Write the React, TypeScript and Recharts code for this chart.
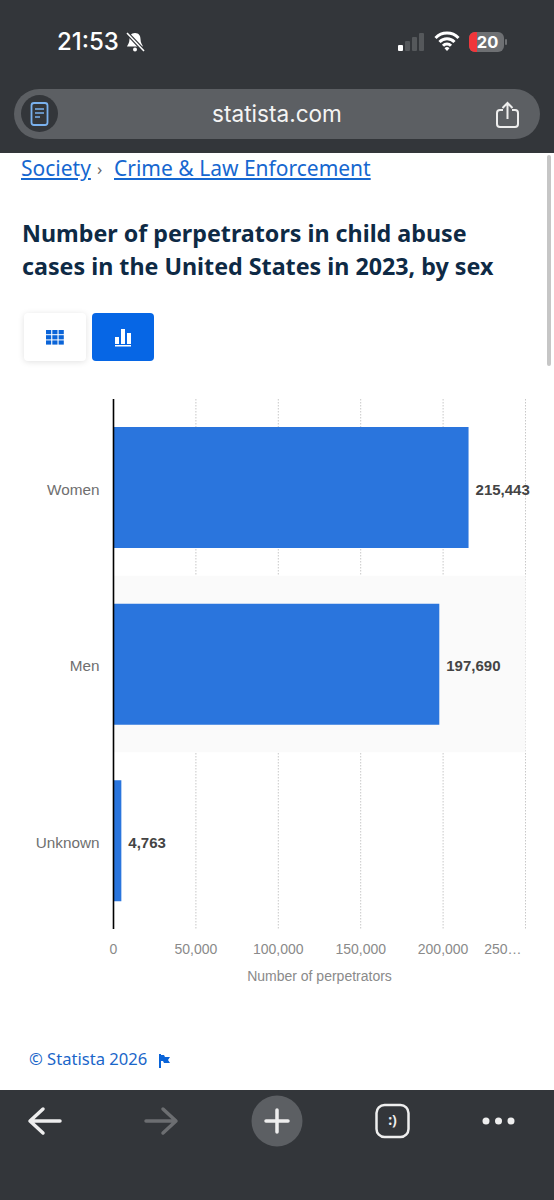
import React from "react";
import { BarChart, Bar, XAxis, YAxis, CartesianGrid, LabelList, ReferenceArea } from "recharts";

const categories = ["Women", "Men", "Unknown"];
const perpetrators = [215443, 197690, 4763];
const xTicks = [0, 50000, 100000, 150000, 200000, 250000];
const titleLines = ["Number of perpetrators in child abuse", "cases in the United States in 2023, by sex"];
const chartRows = categories.map((name, i) => ({ name, value: perpetrators[i] }));

const ARIAL = "'Liberation Sans', Arial, sans-serif";
const NOTO = "'Noto Sans', 'Open Sans', sans-serif";
const DARK = "#33363a";

function T({ x, y, size, color, children, weight, family, underline, center, w }: any) {
  return (
    <div
      style={{
        position: "absolute", left: x, top: y, width: w, fontSize: size, lineHeight: "1", color,
        fontWeight: weight || 400, fontFamily: family || NOTO, whiteSpace: "nowrap",
        textDecoration: underline ? "underline" : "none", textAlign: center ? "center" : "left",
      }}
    >
      {children}
    </div>
  );
}

function Box({ x, y, w, h, bg, r, shadow }: any) {
  return <div style={{ position: "absolute", left: x, top: y, width: w, height: h, background: bg, borderRadius: r || 0, boxShadow: shadow }} />;
}

function XTick({ x, y, payload }: any) {
  const last = payload.value === xTicks[xTicks.length - 1];
  return (
    <text x={last ? x - 4 : x} y={y} dy={5} textAnchor={last ? "end" : "middle"} fontSize={14} fontFamily={ARIAL} fill="#8a8a8a">
      {last ? "250…" : payload.value.toLocaleString("en-US")}
    </text>
  );
}

function YTick({ x, y, payload }: any) {
  return (
    <text x={x} y={y} dy={7.3} textAnchor="end" fontSize={15.3} fontFamily={ARIAL} fill="#6f6f6f">
      {payload.value}
    </text>
  );
}

function ValueLabel({ x, y, width, height, value }: any) {
  return (
    <text x={x + width + 7} y={y + height / 2} dy={7} fontSize={15} fontWeight={700} fontFamily={ARIAL} fill="#444">
      {Number(value).toLocaleString("en-US")}
    </text>
  );
}

function Chart() {
  return (
    <div style={{ position: "absolute", left: 0, top: 390 }}>
      <BarChart
        width={554}
        height={599}
        layout="vertical"
        data={chartRows}
        margin={{ top: 9, right: 28.5, bottom: 0, left: 0 }}
        barSize={121}
      >
        <ReferenceArea y1="Men" y2="Men" fill="#fafafa" fillOpacity={1} stroke="none" />
        <CartesianGrid horizontal={false} vertical stroke="#c8c8c8" strokeDasharray="1.5 1.5" />
        <XAxis
          type="number"
          domain={[0, 250000]}
          ticks={xTicks}
          height={60}
          axisLine={false}
          tickLine={false}
          tickMargin={14}
          interval={0}
          tick={<XTick />}
          label={{ value: "Number of perpetrators", position: "insideBottom", offset: 8, fontSize: 14, fontFamily: ARIAL, fill: "#8a8a8a" }}
        />
        <YAxis
          type="category"
          dataKey="name"
          width={113.5}
          axisLine={{ stroke: "#000", strokeWidth: 1.6 }}
          tickLine={false}
          tickMargin={8}
          tick={<YTick />}
        />
        <Bar dataKey="value" fill="#2a75dd" isAnimationActive={false}>
          <LabelList dataKey="value" content={<ValueLabel />} />
        </Bar>
      </BarChart>
    </div>
  );
}

function TopChrome() {
  return (
    <>
      <Box x={0} y={0} w={554} h={153} bg={DARK} />
      <T x={57} y={30} size={24} color="#fff" family="Inter, Roboto, sans-serif" weight={500}>21:53</T>
      <svg style={{ position: "absolute", left: 124, top: 31 }} width={22} height={22} viewBox="0 0 22 22">
        <path d="M11 2c-4 0-5.500 3-5.500 6 0 4-2 6-2.500 7.500h16c-.5-1.500-2.500-3.500-2.500-7.500 0-3-1.500-6-5.500-6z" fill="#fff" />
        <circle cx={11} cy={18.500} r={2} fill="#fff" />
        <line x1={3} y1={2} x2={20} y2={20} stroke={DARK} strokeWidth={4} />
        <line x1={3} y1={2} x2={20} y2={20} stroke="#fff" strokeWidth={1.6} />
      </svg>
      <svg style={{ position: "absolute", left: 396, top: 32 }} width={30} height={20}>
        <rect x={2} y={13} width={5} height={6} rx={1} fill="#fff" />
        <rect x={9} y={9} width={5} height={10} rx={1} fill="#55585b" />
        <rect x={16} y={5} width={5} height={14} rx={1} fill="#55585b" />
        <rect x={23} y={1} width={5} height={18} rx={1} fill="#55585b" />
      </svg>
      <svg style={{ position: "absolute", left: 434, top: 31 }} width={26} height={21} viewBox="0 0 26 21">
        <path d="M1.500 7a16 16 0 0 1 23 0M5.500 11a10.500 10.500 0 0 1 15 0M9 14.800a5.500 5.500 0 0 1 8 0" stroke="#fff" strokeWidth={3} fill="none" />
        <path d="M10.500 17.200 13 20l2.500-2.800a3.500 3.500 0 0 0-5 0z" fill="#fff" />
      </svg>
      <div style={{ position: "absolute", left: 469, top: 32, width: 35, height: 20, borderRadius: 6, overflow: "hidden", background: "#6e7073" }}>
        <div style={{ width: 8, height: 20, background: "#f0363b" }} />
      </div>
      <Box x={505} y={39} w={2} h={6} bg="#6e7073" r={1} />
      <T x={470} y={34} w={35} size={16.500} color="#fff" weight={700} family="Inter, Roboto, sans-serif" center>20</T>
      <Box x={14} y={89} w={526} h={50} bg="#5c5f63" r={25} />
      <svg style={{ position: "absolute", left: 21, top: 95 }} width={37} height={37}>
        <circle cx={18.500} cy={18.500} r={18.500} fill={DARK} />
        <rect x={10.500} y={8} width={16} height={22} rx={2.500} fill="none" stroke="#7ab1ee" strokeWidth={1.8} />
        <path d="M14 14h9M14 18h9M14 22h5" stroke="#7ab1ee" strokeWidth={1.6} />
      </svg>
      <T x={0} y={103} w={554} size={22.600} color="#f4f4f4" family="Inter, Roboto, sans-serif" center>statista.com</T>
      <svg style={{ position: "absolute", left: 495, top: 101 }} width={26} height={30} fill="none" stroke="#eee" strokeWidth={2}>
        <path d="M8 9H5a3 3 0 0 0-3 3v11a3 3 0 0 0 3 3h15a3 3 0 0 0 3-3V12a3 3 0 0 0-3-3h-3" />
        <path d="M12.500 18V2M7.500 7l5-5 5 5" />
      </svg>
    </>
  );
}

function PageHeader() {
  return (
    <>
      <T x={21} y={158} size={21} color="#1667d0" underline>Society</T>
      <T x={97} y={160} size={17} color="#666">›</T>
      <T x={114} y={158} size={21} color="#1667d0" underline>Crime &amp; Law Enforcement</T>
      <Box x={547} y={155} w={4} h={211} bg="#c6c6c6" r={2} />
      {titleLines.map((line, i) => (
        <T key={line} x={22} y={221.500 + i * 33} size={23.250} color="#0e2a45" weight={700}>{line}</T>
      ))}
      <Box x={24} y={313} w={62} h={48} bg="#fff" r={4} shadow="0 1px 6px rgba(0,0,0,0.12)" />
      <Box x={92} y={313} w={62} h={48} bg="#0666e5" r={4} />
      <svg style={{ position: "absolute", left: 46, top: 330 }} width={18} height={15}>
        {[0, 1, 2].flatMap((row) =>
          [0, 1, 2].map((col) => <rect key={`${row}-${col}`} x={col * 6.300} y={row * 5.200} width={5.200} height={4.200} fill="#0a64d8" />)
        )}
      </svg>
      <svg style={{ position: "absolute", left: 114, top: 328 }} width={18} height={19} fill="#fff">
        <rect x={1} y={9} width={4} height={7} />
        <rect x={7} y={1} width={4} height={15} />
        <rect x={13} y={5} width={4} height={11} />
        <rect x={1} y={17} width={16} height={1.500} />
      </svg>
    </>
  );
}

function BottomChrome() {
  return (
    <>
      <T x={29} y={1051} size={16.600} color="#1a66c9">© Statista 2026</T>
      <svg style={{ position: "absolute", left: 159, top: 1054 }} width={11} height={14} fill="#0a64d8">
        <path d="M0 0h2v14H0zM2 1l3 0 1 2h5l-2 3 2 3H5L4 7H2z" />
      </svg>
      <Box x={0} y={1090} w={554} h={110} bg={DARK} />
      <svg style={{ position: "absolute", left: 0, top: 1090 }} width={554} height={110} fill="none">
        <path d="M60 31H31M43 19 30 31l13 12" stroke="#eee" strokeWidth={3.500} strokeLinecap="round" strokeLinejoin="round" />
        <path d="M146 31h29M163 19l13 12-13 12" stroke="#6c6e71" strokeWidth={3.500} strokeLinecap="round" strokeLinejoin="round" />
        <circle cx={277} cy={31} r={25.500} fill="#5c5f63" />
        <path d="M277 20v22M266 31h22" stroke="#eee" strokeWidth={3.500} strokeLinecap="round" />
        <rect x={376.500} y={15} width={32} height={32} rx={8} stroke="#eee" strokeWidth={2.500} />
        <circle cx={486} cy={31} r={3.500} fill="#eee" />
        <circle cx={498.500} cy={31} r={3.500} fill="#eee" />
        <circle cx={511} cy={31} r={3.500} fill="#eee" />
      </svg>
      <T x={377} y={1113} w={31} size={14} color="#eee" weight={700} center>:)</T>
    </>
  );
}

export default function App() {
  return (
    <div style={{ position: "absolute", left: 0, top: 0, width: 554, height: 1200, background: "#fff", overflow: "hidden" }}>
      <Chart />
      <PageHeader />
      <TopChrome />
      <BottomChrome />
    </div>
  );
}
